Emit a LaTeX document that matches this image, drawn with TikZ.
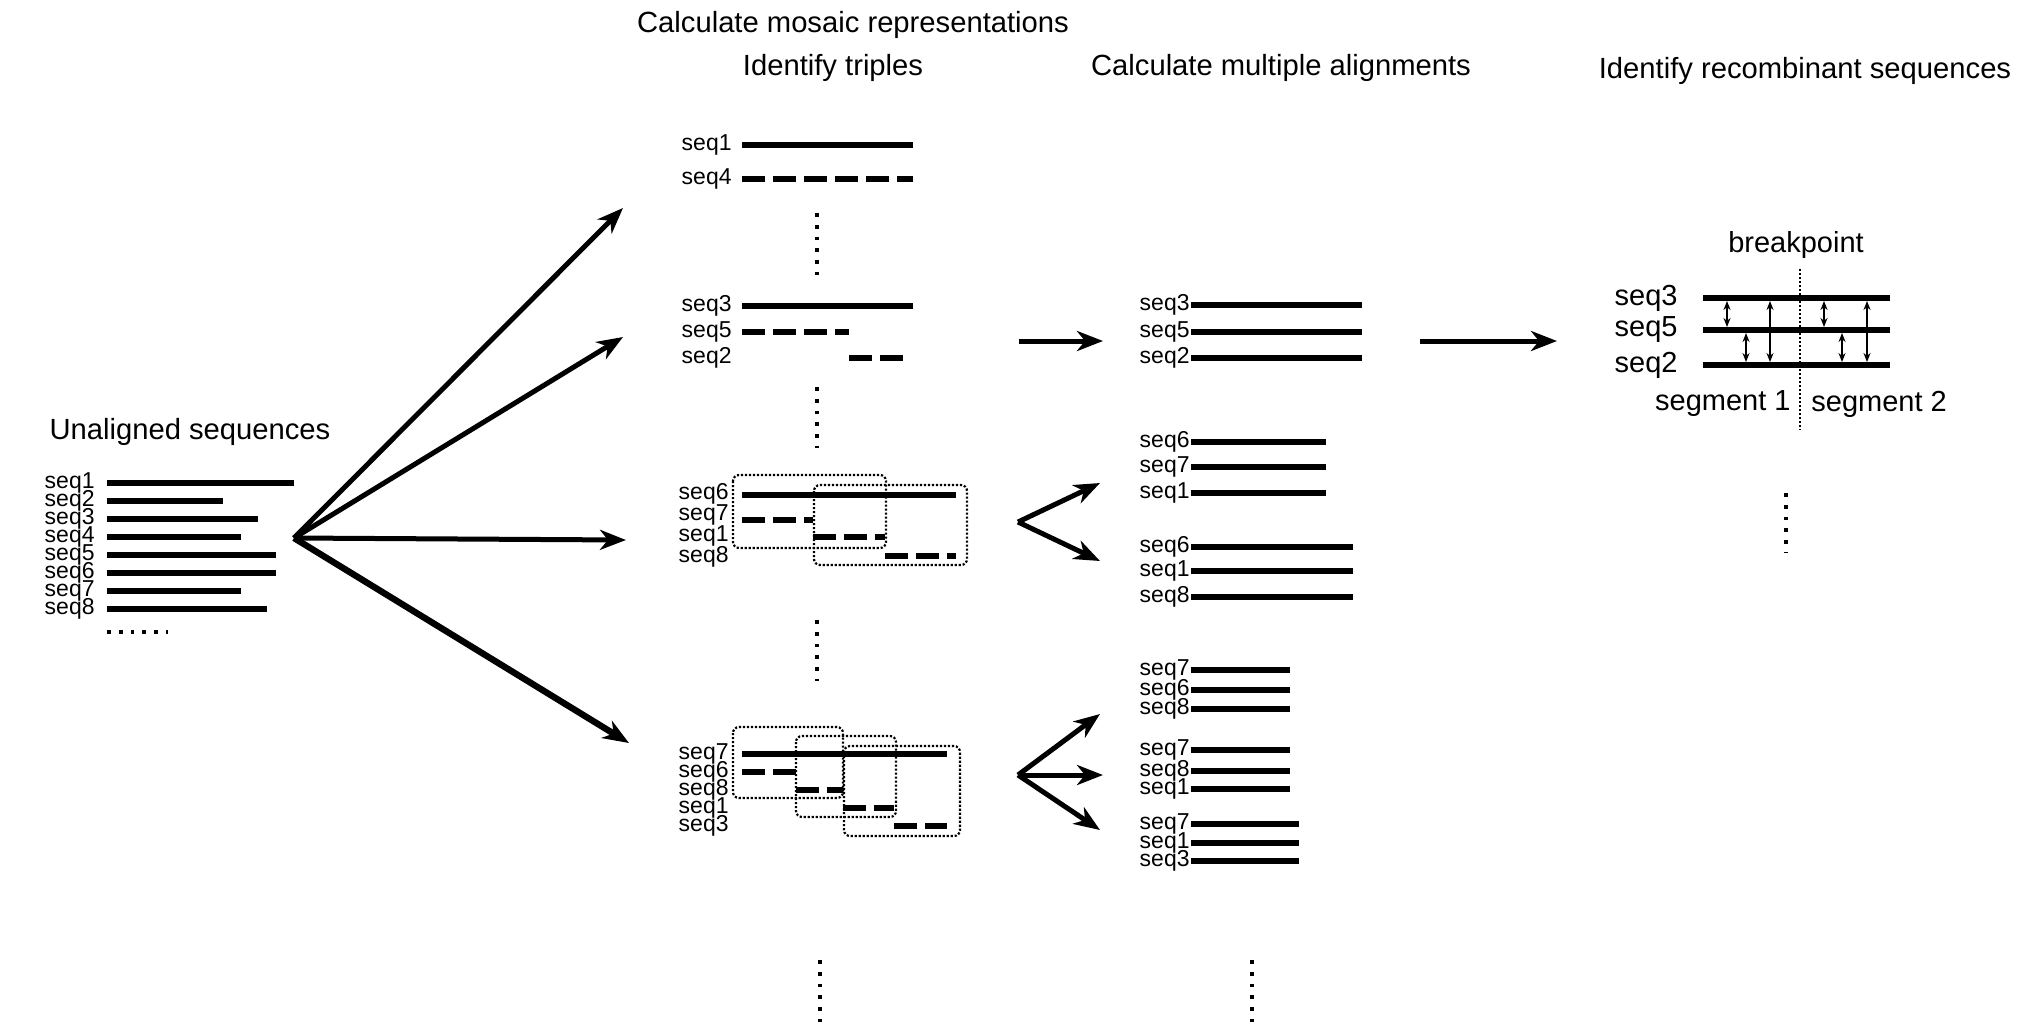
\documentclass[tikz,border=0pt]{standalone}
\usepackage{fontspec}
\setmainfont{Liberation Sans}
\usetikzlibrary{arrows.meta, positioning}

\begin{document}
\begin{tikzpicture}[
  x=0.5pt, y=-0.5pt,               % one unit = one pixel of the figure
  >={Stealth[length=13pt, width=10pt, inset=4pt]},
  head/.style={font=\fontsize{14.6}{17}\selectfont, inner sep=0pt},
  lab/.style={font=\fontsize{11.5}{12}\selectfont, inner sep=0pt, anchor=east},
  biglab/.style={font=\fontsize{14.5}{16}\selectfont, inner sep=0pt},
  bar/.style={line width=2.7pt},
  dbar/.style={bar, dash pattern=on 11.5pt off 4pt},
  more/.style={line width=1.9pt, dash pattern=on 1.9pt off 4pt},
  win/.style={line width=1.1pt, dash pattern=on 1.1pt off 0.9pt, rounded corners=3pt},
  flow/.style={->, line width=2.5pt},
  tie/.style={<->, line width=0.7pt, >={Stealth[length=4.5pt, width=3.5pt]}},
]
\useasboundingbox (0,0) rectangle (2024,1030);

% --- Headings ---
\node[head] (mosaic)  at (853,25)  {Calculate mosaic representations};
\node[head] (triples) at (833,68)  {Identify triples};
\node[head] (multi)   at (1281,68) {Calculate multiple alignments};
\node[head] (recomb)  at (1805,71) {Identify recombinant sequences};

% --- Unaligned input ---
\node[head] (unal) at (190,432) {Unaligned sequences};
\foreach \i/\e in {1/294,2/223,3/258,4/241,5/276,6/276,7/241,8/267} {
  \node[lab] (u\i) at (95,{483+18*(\i-1)}) {seq\i};
  \draw[bar] (107,{483+18*(\i-1)}) -- (\e,{483+18*(\i-1)});
}
\draw[more] (107,632) -- (168,632);

% --- Fan out to triples ---
\coordinate (fan) at (294,538);
\coordinate (tA) at (623,208);
\coordinate (tB) at (623,337);
\coordinate (tC) at (626,540);
\coordinate (tD) at (629,743);
\draw[flow] (fan) -- (tA);
\draw[flow] (fan) -- (tB);
\draw[flow] (fan) -- (tC);
\draw[flow, line width=3.2pt] (fan) -- (tD);

% --- Triples ---
\node[lab] (a1) at (732,145) {seq1};
\node[lab] (a4) at (732,179) {seq4};
\draw[bar]  (742,145) -- (913,145);
\draw[dbar] (742,179) -- (913,179);
\draw[more] (817,213) -- (817,275);

\node[lab] (b3) at (732,306) {seq3};
\node[lab] (b5) at (732,332) {seq5};
\node[lab] (b2) at (732,358) {seq2};
\draw[bar]  (742,306) -- (913,306);
\draw[dbar] (742,332) -- (849,332);
\draw[dbar] (849,358) -- (905,358);
\draw[more] (817,387) -- (817,448);

\node[lab] (c6) at (729,494) {seq6};
\node[lab] (c7) at (729,515) {seq7};
\node[lab] (c1) at (729,536) {seq1};
\node[lab] (c8) at (729,557) {seq8};
\draw[bar]  (742,495) -- (956,495);
\draw[dbar] (742,520) -- (813,520);
\draw[dbar] (813,537) -- (885,537);
\draw[dbar] (885,556) -- (956,556);
\draw[win] (733,475) rectangle (886,548);
\draw[win] (814,485) rectangle (967,565);
\draw[more] (817,620) -- (817,681);

\node[lab] (d7) at (729,754) {seq7};
\node[lab] (d6) at (729,772) {seq6};
\node[lab] (d8) at (729,790) {seq8};
\node[lab] (d1) at (729,808) {seq1};
\node[lab] (d3) at (729,826) {seq3};
\draw[bar]  (742,754) -- (947,754);
\draw[dbar] (742,772) -- (796,772);
\draw[dbar] (796,790) -- (843,790);
\draw[dbar] (843,808) -- (894,808);
\draw[dbar] (894,826) -- (947,826);
\draw[win] (733,727) rectangle (843,798);
\draw[win] (796,736) rectangle (896,817);
\draw[win] (844,746) rectangle (960,836);

\draw[more] (820,960) -- (820,1022);
\draw[more] (1252,960) -- (1252,1022);

% --- Triples to alignments ---
\coordinate (bo) at (1019,341); \coordinate (bi) at (1103,341);
\draw[flow] (bo) -- (bi);
\coordinate (co) at (1018,522);
\coordinate (c1t) at (1100,483); \coordinate (c2t) at (1100,561);
\draw[flow] (co) -- (c1t);
\draw[flow] (co) -- (c2t);
\coordinate (do) at (1018,775);
\coordinate (d1t) at (1100,714); \coordinate (d2t) at (1103,775); \coordinate (d3t) at (1100,830);
\draw[flow] (do) -- (d1t);
\draw[flow] (do) -- (d2t);
\draw[flow] (do) -- (d3t);

% --- Multiple alignments ---
\foreach \y/\n/\e [count=\k] in {305/3/1362, 332/5/1362, 358/2/1362,
    442/6/1326, 467/7/1326, 493/1/1326,
    547/6/1353, 571/1/1353, 597/8/1353,
    670/7/1290, 690/6/1290, 709/8/1290,
    750/7/1290, 771/8/1290, 789/1/1290,
    824/7/1299, 843/1/1299, 861/3/1299} {
  \node[lab] (m\k) at (1190,\y) {seq\n};
  \draw[bar] (1191,\y) -- (\e,\y);
}

% --- Recombinant sequences ---
\coordinate (eo) at (1420,341); \coordinate (ei) at (1557,341);
\draw[flow] (eo) -- (ei);

\node[biglab] (brk) at (1796,245) {breakpoint};
\draw[line width=1.1pt, dash pattern=on 1.1pt off 0.9pt] (1800,269) -- (1800,430);
\node[biglab, anchor=east] (r3) at (1678,298) {seq3};
\node[biglab, anchor=east] (r5) at (1678,330) {seq5};
\node[biglab, anchor=east] (r2) at (1678,365) {seq2};
\draw[bar] (1703,298) -- (1890,298);
\draw[bar] (1703,330) -- (1890,330);
\draw[bar] (1703,365) -- (1890,365);
\foreach \x in {1727,1824} \draw[tie] (\x,301) -- (\x,327);
\foreach \x in {1746,1842} \draw[tie] (\x,333) -- (\x,362);
\foreach \x in {1770,1867} \draw[tie] (\x,301) -- (\x,362);
\node[biglab, anchor=east] (s1) at (1791,404) {segment 1};
\node[biglab, anchor=west] (s2) at (1811,404) {segment 2};
\draw[more] (1786,493) -- (1786,553);

\end{tikzpicture}
\end{document}
